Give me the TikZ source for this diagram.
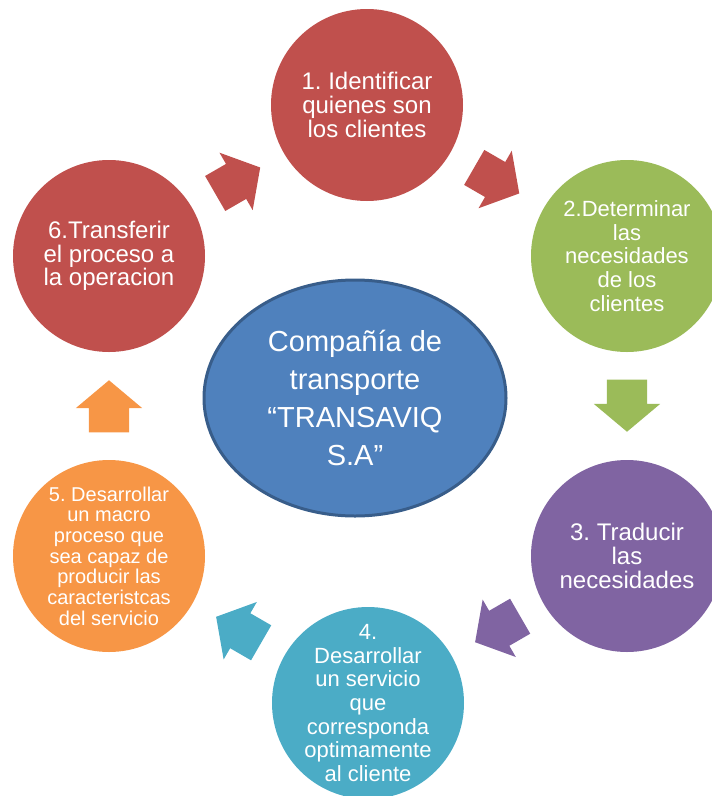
\documentclass[tikz,border=0pt]{standalone}
\usepackage{fontspec}
\setmainfont{Liberation Sans}
\frenchspacing
\usetikzlibrary{shapes.geometric,shapes.arrows,calc}

\definecolor{rojo}{HTML}{C0504D}
\definecolor{verde}{HTML}{9BBB59}
\definecolor{morado}{HTML}{8064A2}
\definecolor{celeste}{HTML}{4BACC6}
\definecolor{naranja}{HTML}{F79646}
\definecolor{azul}{HTML}{4F81BD}
\definecolor{azulborde}{HTML}{385D8A}

\tikzset{
    paso/.style={circle, minimum size=192pt, inner sep=0pt},
    texto/.style={text=white, align=center, inner sep=0pt,
        font=\fontsize{24}{24}\selectfont},
    flecha/.style={single arrow, minimum height=52pt, inner xsep=0pt,
        inner ysep=20pt, single arrow head extend=13pt,
        single arrow tip angle=100, draw=none, anchor=tip}
}

\begin{document}
\begin{tikzpicture}[x=1pt, y=-1pt]
            \useasboundingbox (0,0) rectangle (712,796);
            \clip (0,0) rectangle (712,796);

            \node[paso, fill=rojo, label={[texto]center:1. Identificar\\quienes son\\los clientes}] (c1) at (367, 105) {};
            \node[paso, fill=verde, label={[texto, font=\fontsize{22}{23.8}\selectfont]center:2.Determinar\\las\\necesidades\\de los\\clientes}] (c2) at (627, 256) {};
            \node[paso, fill=morado, label={[texto]center:3. Traducir\\las\\necesidades}] (c3) at (627, 556) {};
            \node[paso, fill=celeste, label={[texto, font=\fontsize{22}{23.6}\selectfont]center:4.\\Desarrollar\\un servicio\\que\\corresponda\\optimamente\\al cliente}] (c4) at (368, 703) {};
            \node[paso, fill=naranja, label={[texto, font=\fontsize{20}{20.7}\selectfont]center:5. Desarrollar\\un macro\\proceso que\\sea capaz de\\producir las\\caracteristcas\\del servicio}] (c5) at (109, 556) {};
            \node[paso, fill=rojo, label={[texto, font=\fontsize{24}{23.5}\selectfont]center:6.Transferir\\el proceso a\\la operacion}] (c6) at (109, 256) {};

            \node[ellipse, minimum width=302pt, minimum height=236pt, fill=azul,
                draw=azulborde, line width=3pt, text=white, align=center,
                font=\fontsize{29}{38}\selectfont] (emp) at (355, 398)
                {Compañía de\\transporte\\“TRANSAVIQ\\S.A”};

            % flechas entre los pasos
            \coordinate (m1) at ($(c6)!0.5!(c1)$);
            \coordinate (m2) at ($(c1)!0.5!(c2)$);
            \coordinate (m3) at ($(c2)!0.5!(c3)$);
            \coordinate (m4) at ($(c3)!0.5!(c4)$);
            \coordinate (m5) at ($(c4)!0.5!(c5)$);
            \coordinate (m6) at ($(c5)!0.5!(c6)$);

            \node[flecha, fill=rojo, rotate=30] (f1) at ($(m1)!26pt!(c1)$) {};
            \node[flecha, fill=rojo, rotate=-30] (f2) at ($(m2)!26pt!(c2)$) {};
            \node[flecha, fill=verde, rotate=-90] (f3) at ($(m3)!26pt!(c3)$) {};
            \node[flecha, fill=morado, rotate=210] (f4) at ($(m4)!26pt!(c4)$) {};
            \node[flecha, fill=celeste, rotate=150] (f5) at ($(m5)!26pt!(c5)$) {};
            \node[flecha, fill=naranja, rotate=90] (f6) at ($(m6)!26pt!(c6)$) {};
        \end{tikzpicture}
\end{document}
